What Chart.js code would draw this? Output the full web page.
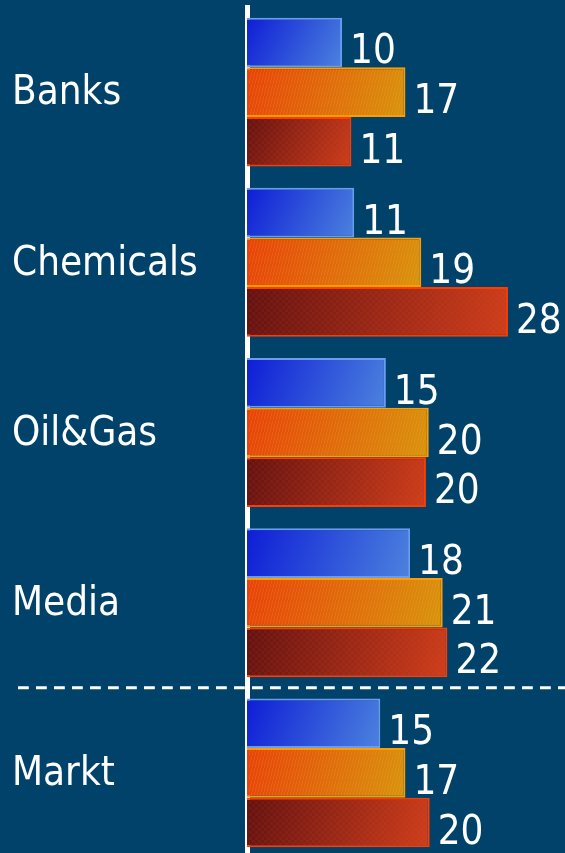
<!DOCTYPE html>
<html><head><meta charset="utf-8">
<script src="https://cdn.jsdelivr.net/npm/chart.js@4"></script>
<style>
html,body{margin:0;padding:0;background:#01426A;overflow:hidden;}
#wrap{position:absolute;left:0;top:0;width:565px;height:860px;}
</style></head><body>
<div id="wrap"><canvas id="c"></canvas></div>
<script>
// Categories and series (bar lengths)
const categories = ['Banks', 'Chemicals', 'Oil&Gas', 'Media', 'Markt'];
const seriesA = [10.2, 11.5, 14.9, 17.5, 14.3];
const seriesB = [17.0, 18.7, 19.5, 21.0, 17.0];
const seriesC = [11.2, 28.0, 19.2, 21.5, 19.6];
// Printed value labels
const labelsA = [10, 11, 15, 18, 15];
const labelsB = [17, 19, 20, 21, 17];
const labelsC = [11, 28, 20, 22, 20];

const FONT = '"DejaVu Sans Condensed", "DejaVu Sans", sans-serif';

const styles = [
  {from: '#0E1ED6', to: '#4C82DE', border: '#6A9CF2'},
  {from: '#E8400A', to: '#D8940E', border: '#FF9C00'},
  {from: '#621212', to: '#CE3E1C', border: '#FF3C00'}
];

function makePattern(kind) {
  const c = document.createElement('canvas');
  const ctx = c.getContext('2d');
  if (kind === 'orange') {
    c.width = 3; c.height = 12;
    ctx.strokeStyle = 'rgba(255,190,60,0.2)';
    ctx.lineWidth = 1;
    ctx.beginPath(); ctx.moveTo(0, 12); ctx.lineTo(3, 0); ctx.stroke();
  } else if (kind === 'red') {
    c.width = 6; c.height = 6;
    ctx.fillStyle = 'rgba(255,90,40,0.08)';
    ctx.fillRect(0, 0, 3, 3);
    ctx.fillRect(3, 3, 3, 3);
  } else {
    return null;
  }
  return c;
}

const barStylePlugin = {
  id: 'barStyle',
  beforeDatasetsDraw(chart) {
    const ctx = chart.ctx;
    chart.data.datasets.forEach((ds, di) => {
      const st = styles[di];
      chart.getDatasetMeta(di).data.forEach(el => {
        const p = el.getProps(['x', 'y', 'base', 'height'], true);
        const top = p.y - p.height / 2, bottom = p.y + p.height / 2;
        const g = ctx.createLinearGradient(p.base, top, p.x, bottom);
        g.addColorStop(0, st.from);
        g.addColorStop(1, st.to);
        el.options = Object.assign({}, el.options, {backgroundColor: g});
      });
    });
  },
  afterDatasetsDraw(chart) {
    const ctx = chart.ctx;
    ctx.save();
    // subtle textures
    const pats = [null, makePattern('orange'), makePattern('red')];
    chart.data.datasets.forEach((ds, di) => {
      if (!pats[di]) return;
      const pat = ctx.createPattern(pats[di], 'repeat');
      chart.getDatasetMeta(di).data.forEach(el => {
        const top = el.y - el.height / 2;
        ctx.fillStyle = pat;
        ctx.fillRect(el.base + 2, top + 2, el.x - el.base - 4, el.height - 4);
      });
    });
    // value labels
    ctx.font = '40px ' + FONT;
    ctx.fillStyle = '#ffffff';
    ctx.textAlign = 'left';
    ctx.textBaseline = 'alphabetic';
    chart.data.datasets.forEach((ds, di) => {
      chart.getDatasetMeta(di).data.forEach((el, i) => {
        ctx.fillText(String(ds.valueLabels[i]), el.x + 8, el.y + 21);
      });
    });
    // dashed separator between Media and Markt
    const ys = chart.scales.y;
    const yy = ys.getPixelForValue(3.5);
    ctx.strokeStyle = '#ffffff';
    ctx.lineWidth = 3;
    ctx.setLineDash([10.8, 7.2]);
    ctx.beginPath();
    ctx.moveTo(18, yy);
    ctx.lineTo(chart.width, yy);
    ctx.stroke();
    ctx.restore();
  }
};

new Chart(document.getElementById('c'), {
  type: 'bar',
  data: {
    labels: categories,
    datasets: [
      {label: 'A', data: seriesA, valueLabels: labelsA, borderColor: styles[0].border},
      {label: 'B', data: seriesB, valueLabels: labelsB, borderColor: styles[1].border},
      {label: 'C', data: seriesC, valueLabels: labelsC, borderColor: styles[2].border}
    ]
  },
  options: {
    indexAxis: 'y',
    responsive: true,
    maintainAspectRatio: false,
    animation: false,
    layout: {padding: {left: 12, top: 7, bottom: 2, right: 0}},
    datasets: {bar: {borderWidth: 2, borderSkipped: 'start', categoryPercentage: 0.875, barPercentage: 1.0}},
    plugins: {legend: {display: false}, tooltip: {enabled: false}},
    scales: {
      x: {display: false, min: 0, max: 34.12},
      y: {
        grid: {display: false},
        border: {display: true, color: '#ffffff', width: 5},
        ticks: {color: '#ffffff', font: {family: FONT, size: 40}, crossAlign: 'far', padding: 0, labelOffset: 2},
        afterFit(scale) { scale.width = 235; scale.paddingTop = 0; scale.paddingBottom = 0; }
      }
    }
  },
  plugins: [barStylePlugin]
});
</script>
</body></html>
